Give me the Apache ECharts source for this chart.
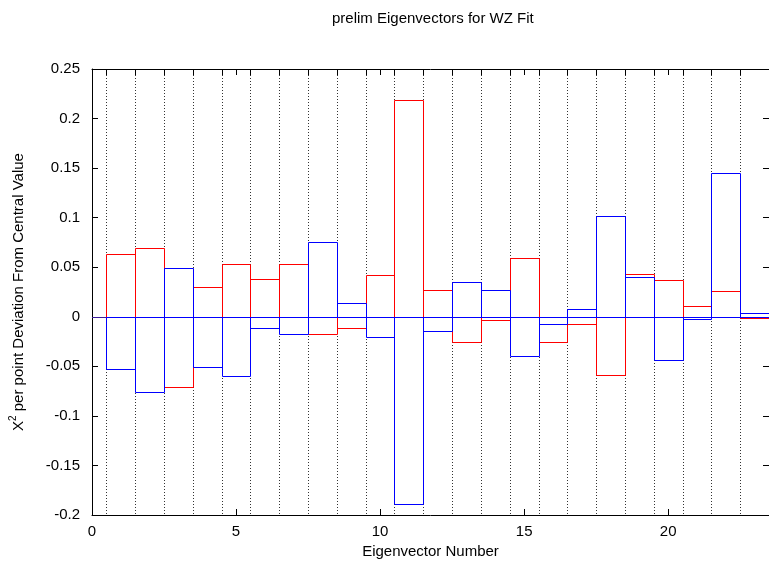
<!DOCTYPE html>
<html>
<head>
<meta charset="utf-8">
<script src="https://cdn.jsdelivr.net/npm/echarts@6/dist/echarts.min.js"></script>
<style>html,body{margin:0;padding:0;background:#fff}#c{width:769px;height:564px}</style>
</head>
<body>
<div id="c"></div>
<script>
const eigenvectors = [1,2,3,4,5,6,7,8,9,10,11,12,13,14,15,16,17,18,19,20,21,22,23];
const redValues = [0.063, 0.069, -0.071, 0.030, 0.053, 0.038, 0.053, -0.0175, -0.011, 0.042, 0.219, 0.027, -0.025, -0.003, 0.059, -0.025, -0.007, -0.059, 0.043, 0.037, 0.011, 0.026, -0.001];
const blueValues = [-0.053, -0.076, 0.049, -0.051, -0.060, -0.011, -0.0178, 0.0756, 0.0144, -0.020, -0.189, -0.0148, 0.035, 0.0266, -0.040, -0.007, 0.008, 0.102, 0.040, -0.044, -0.002, 0.1455, 0.004];
const xTickLabels = [0, 5, 10, 15, 20];
const yTickLabels = [-0.2, -0.15, -0.1, -0.05, 0, 0.05, 0.1, 0.15, 0.2, 0.25];
const gridPositions = eigenvectors.map(e => e - 0.5);

const chart = echarts.init(document.getElementById('c'), null, {renderer: 'canvas'});
const FONT = 'Liberation Sans, Arial, sans-serif';
const FS = 15;

function boxRenderer(color) {
  return function (params, api) {
    const x = api.value(0), v = api.value(1);
    const p1 = api.coord([x - 0.5, v]);
    const p2 = api.coord([x + 0.5, 0]);
    const x0 = Math.round(p1[0]) + 0.5, x1 = Math.round(p2[0]) + 0.5;
    const ya = Math.round(p1[1]) + 0.5, yb = Math.round(p2[1]) + 0.5;
    return {
      type: 'rect',
      shape: {x: x0, y: Math.min(ya, yb), width: x1 - x0, height: Math.abs(yb - ya)},
      style: {fill: 'none', stroke: color, lineWidth: 1}
    };
  };
}

const option = {
  animation: false,
  backgroundColor: '#fff',
  title: {
    text: 'prelim Eigenvectors for WZ Fit',
    left: 327, top: 6,
    textStyle: {fontFamily: FONT, fontSize: FS, fontWeight: 'normal', color: '#000'}
  },
  grid: {left: 91, top: 69, width: 683, height: 446, containLabel: false},
  xAxis: [{
    type: 'value', min: 0, max: 23.5, interval: 5, position: 'bottom',
    name: 'Eigenvector Number', nameLocation: 'middle', nameGap: 29,
    nameTextStyle: {fontFamily: FONT, fontSize: FS, color: '#000'},
    axisLine: {show: true, onZero: false, lineStyle: {color: '#000', width: 1}},
    axisTick: {show: true, inside: true, length: 6, lineStyle: {color: '#000'}},
    axisLabel: {fontFamily: FONT, fontSize: FS, color: '#000', margin: 9, showMaxLabel: false,
      formatter: v => xTickLabels.includes(v) ? String(v) : ''},
    splitLine: {show: false}
  }, {
    type: 'value', min: 0, max: 23.5, interval: 5, position: 'top',
    axisLine: {show: true, onZero: false, lineStyle: {color: '#000', width: 1}},
    axisTick: {show: true, inside: true, length: 6, lineStyle: {color: '#000'}},
    axisLabel: {show: false}, splitLine: {show: false}
  }],
  yAxis: [{
    type: 'value', min: -0.2, max: 0.25, interval: 0.05, position: 'left',
    name: '{a|X}{s|2}{a| per point Deviation From Central Value}',
    nameLocation: 'middle', nameGap: 66, nameRotate: 90,
    nameTextStyle: {fontFamily: FONT, color: '#000',
      rich: {
        a: {fontFamily: FONT, fontSize: FS, color: '#000', verticalAlign: 'bottom', lineHeight: 18},
        s: {fontFamily: FONT, fontSize: 10, color: '#000', verticalAlign: 'top', lineHeight: 18}
      }},
    axisLine: {show: true, onZero: false, lineStyle: {color: '#000', width: 1}},
    axisTick: {show: true, inside: true, length: 6, lineStyle: {color: '#000'}},
    axisLabel: {fontFamily: FONT, fontSize: FS, color: '#000', margin: 12,
      formatter: v => { const r = Math.round(v * 100) / 100; return yTickLabels.some(t => Math.abs(t - r) < 1e-9) ? String(r) : ''; }},
    splitLine: {show: false}
  }, {
    type: 'value', min: -0.2, max: 0.25, interval: 0.05, position: 'right',
    axisLine: {show: true, onZero: false, lineStyle: {color: '#000', width: 1}},
    axisTick: {show: true, inside: true, length: 6, lineStyle: {color: '#000'}},
    axisLabel: {show: false}, splitLine: {show: false}
  }],
  series: [{
    type: 'custom', name: 'grid', z: 1, clip: true,
    data: gridPositions.map(p => [p]),
    renderItem: function (params, api) {
      const x = api.value(0);
      const top = api.coord([x, 0.25]);
      const bot = api.coord([x, -0.2]);
      const px = Math.round(top[0]) + 0.5;
      return {
        type: 'group',
        children: [{
          type: 'line',
          shape: {x1: px, y1: top[1], x2: px, y2: bot[1]},
          style: {stroke: '#333', lineWidth: 1, lineDash: [1, 2]}
        }, {
          type: 'line',
          shape: {x1: px, y1: top[1], x2: px, y2: top[1] + 6},
          style: {stroke: '#000', lineWidth: 1}
        }]
      };
    }
  }, {
    type: 'custom', name: 'red', zlevel: 1, z: 3, clip: true,
    data: eigenvectors.map((e, i) => [e, redValues[i]]),
    renderItem: boxRenderer('#ff0000')
  }, {
    type: 'custom', name: 'blue', zlevel: 1, z: 4, clip: true,
    data: eigenvectors.map((e, i) => [e, blueValues[i]]),
    renderItem: boxRenderer('#0000ff')
  }, {
    type: 'line', name: 'zero', zlevel: 1, z: 5, data: [],
    markLine: {
      silent: true, symbol: 'none', label: {show: false},
      lineStyle: {color: '#3a1a9a', width: 1, type: 'solid'},
      data: [{yAxis: 0}]
    }
  }]
};
chart.setOption(option);
</script>
</body>
</html>
